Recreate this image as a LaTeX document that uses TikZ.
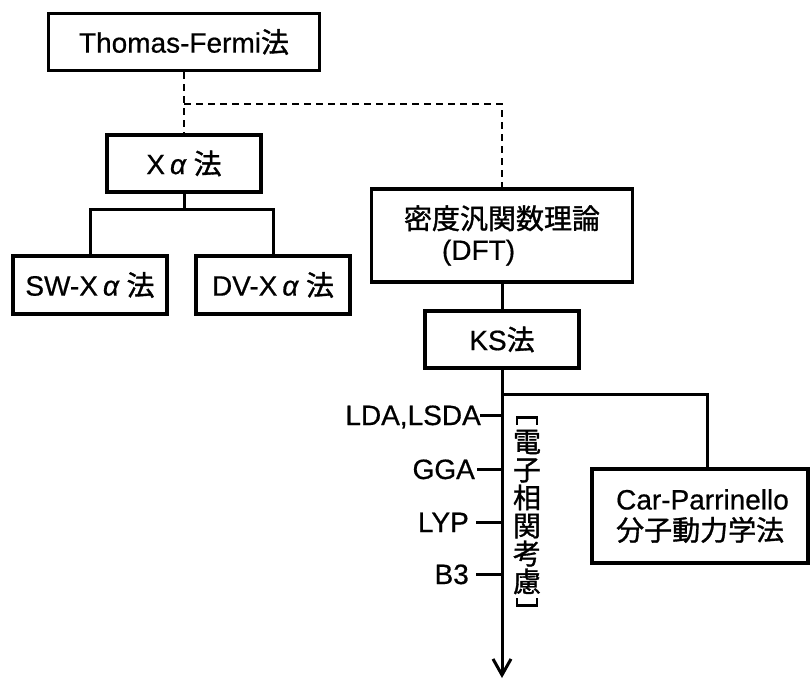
\documentclass[tikz,border=0pt]{standalone}
\usepackage{fontspec}
\setmainfont{Liberation Sans}[FakeBold=0.6]
\newfontfamily\jpfont{Noto Sans CJK JP}[FakeBold=1.2]
\usetikzlibrary{arrows.meta,positioning}
\newcommand{\jp}[1]{{\jpfont #1}}
\newcommand{\xal}{X\hspace{5pt}\textit{α}\hspace{7pt}}
\newcommand{\lblfont}{\fontsize{28}{31}\selectfont}

\tikzset{
  box/.style={draw, line width=3.2pt, inner sep=0pt, minimum height=57pt, font=\lblfont},
  conn/.style={line width=3pt},
  tf link/.style={line width=2.2pt, dash pattern=on 7pt off 5pt}
}

\begin{document}
\begin{tikzpicture}[x=1pt,y=-1pt]
  \useasboundingbox (0,0) rectangle (811,681);
  \fill[white] (0,0) rectangle (811,681);

  %boxes
  \node[box, minimum width=271pt] (tf) at (184,42) {Thomas-Fermi\jp{法}};
  \node[box, minimum width=154pt] (xa) at (184,163.5) {\xal\jp{法}};
  \node[box, minimum width=154pt, minimum height=58pt] (sw) at (90,285) {SW-\xal\jp{法}};
  \node[box, minimum width=154pt, minimum height=58pt] (dv) at (273,285) {DV-\xal\jp{法}};
  \node[box, minimum width=261pt, minimum height=93pt, align=left] (dft) at (502,235.5)
    {\jp{密度汎関数理論}\\\hspace*{38pt}(DFT)};
  \node[box, minimum width=154pt] (ks) at (502,339.5) {KS\jp{法}};
  \node[box, minimum width=216pt, minimum height=94pt, align=left] (cp) at (700,516)
    {\hspace*{5pt}Car-Parrinello\\\hspace*{5pt}\jp{分子動力学法}};

  %dashed
  \coordinate (tfsplit) at (184,104);
  \draw[tf link] (tf.south) -- (tfsplit) -- (xa.north);
  \draw[tf link] (tfsplit) -| (dft.north);

  %solid lines
  \coordinate (xasplit) at (184,209);
  \draw[conn] (xa.south) -- (xasplit);
  \draw[conn] (sw.north) |- (xasplit) -| (dv.north);
  \draw[conn] (dft.south) -- (ks.north);
  \coordinate (arrowend) at (502,678);
  \draw[conn, -{Straight Barb[length=16pt, width=18pt]}] (ks.south) -- (arrowend);
  \coordinate (kssplit) at (502,394);
  \draw[conn] (kssplit) -| ([xshift=7pt]cp.north);

  %ticks on the arrow
  \foreach \lab/\yy/\xt/\xl in {{LDA,LSDA}/415/480/481, GGA/469/477/475, LYP/522/476/469, B3/574/476/469}{
    \coordinate (tick\yy) at (\xt,\yy);
    \draw[conn] (tick\yy) -- (ks.south |- tick\yy);
    \node[anchor=base east, inner sep=0pt, font=\lblfont] (lab\yy) at (\xl,\yy+10) {\lab};
  }

  %vertical text, brackets drawn round it
  \node[inner sep=0pt, align=center, font=\fontsize{28}{28}\selectfont\jpfont] (ec) at (527,512)
    {電\\子\\相\\関\\考\\慮};
  \draw[line width=2.6pt] ([xshift=-10pt,yshift=5pt]ec.north) -- ++(0,-7) -- ++(20,0) -- ++(0,7);
  \draw[line width=2.6pt] ([xshift=-10pt,yshift=-4pt]ec.south) -- ++(0,7) -- ++(20,0) -- ++(0,-7);
\end{tikzpicture}
\end{document}
